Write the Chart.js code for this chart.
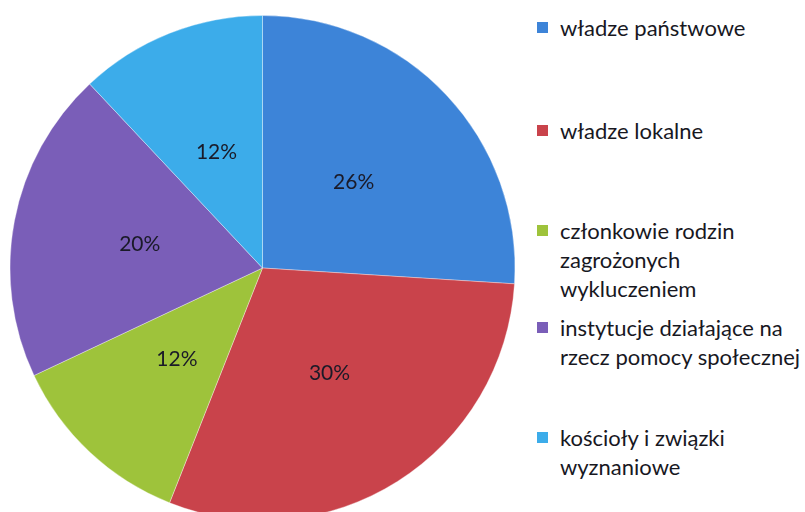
<!DOCTYPE html>
<html>
<head>
<meta charset="utf-8">
<script src="https://cdn.jsdelivr.net/npm/chart.js@4"></script>
<style>
    html, body { margin: 0; padding: 0; background: #fff; overflow: hidden; }
    body { width: 805px; height: 512px; position: relative; }
    #wrap { position: absolute; left: 0; top: 0; width: 525px; height: 536px; }
    #legend { position: absolute; left: 537px; top: 0; font-family: Lato, "Open Sans", sans-serif;
              font-size: 22px; color: #18181f; line-height: 29px; }
    .item { position: absolute; left: 0; white-space: nowrap; }
    .box { position: absolute; left: 0; top: 9px; width: 11px; height: 11px; }
    .txt { position: absolute; left: 23px; top: 0; }
</style>
</head>
<body>
<div id="wrap"><canvas id="pieChart"></canvas></div>
<div id="legend"></div>
<script>
/* ================= DATA ================= */
const labels = [
    ["władze państwowe"],
    ["władze lokalne"],
    ["członkowie rodzin", "zagrożonych", "wykluczeniem"],
    ["instytucje działające na", "rzecz pomocy społecznej"],
    ["kościoły i związki", "wyznaniowe"]
];
const values = [26, 30, 12, 20, 12];
const colors = ["#3d84d8", "#c9434b", "#9ec33b", "#7a5eb8", "#3cacea"];
const legendTops = [13, 116, 216, 313, 423];

/* ================= LABELS ON SLICES ================= */
const sliceLabels = {
    id: "sliceLabels",
    afterDatasetsDraw(chart) {
        const ctx = chart.ctx;
        const meta = chart.getDatasetMeta(0);
        ctx.save();
        ctx.font = "21px Lato, 'Open Sans', sans-serif";
        ctx.fillStyle = "#1a1a28";
        ctx.textAlign = "center";
        ctx.textBaseline = "middle";
        meta.data.forEach((arc, i) => {
            const p = arc.getProps(["x", "y", "startAngle", "endAngle", "outerRadius"], true);
            const a = (p.startAngle + p.endAngle) / 2;
            const r = p.outerRadius * 0.495;
            ctx.fillText(values[i] + "%", p.x + Math.cos(a) * r, p.y + Math.sin(a) * r);
        });
        ctx.restore();
    }
};

/* ================= PIE ================= */
new Chart(document.getElementById("pieChart"), {
    type: "pie",
    data: {
        labels: labels.map(l => l.join(" ")),
        datasets: [{
            data: values,
            backgroundColor: colors,
            borderColor: "rgba(255,255,255,0.35)",
            borderWidth: 1
        }]
    },
    options: {
        responsive: true,
        maintainAspectRatio: false,
        animation: false,
        layout: { padding: { top: 15, bottom: 15, left: 9.5, right: 9.5 } },
        plugins: { legend: { display: false }, tooltip: { enabled: false } }
    },
    plugins: [sliceLabels]
});

/* ================= LEGEND ================= */
const legend = document.getElementById("legend");
labels.forEach((lines, i) => {
    const item = document.createElement("div");
    item.className = "item";
    item.style.top = legendTops[i] + "px";
    item.innerHTML = `<span class="box" style="background:${colors[i]}"></span>` +
        `<span class="txt">${lines.join("<br>")}</span>`;
    legend.appendChild(item);
});
</script>
</body>
</html>
